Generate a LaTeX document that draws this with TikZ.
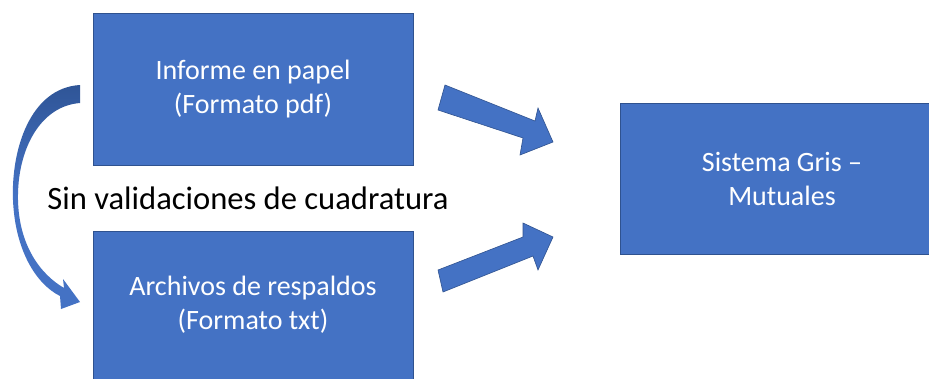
\documentclass[tikz,border=0pt]{standalone}
\usepackage{fontspec}
\setmainfont{Carlito}
\definecolor{boxfill}{HTML}{4472C4}
\definecolor{boxedge}{HTML}{2F528F}
\definecolor{curvedark}{HTML}{2F5597}
\tikzset{
  x=1pt,y=-1pt,
  bluebox/.style={draw=boxedge, line width=1pt, fill=boxfill, text=white, align=center, inner sep=0pt, font=\fontsize{28}{34}\selectfont},
  blockarrow/.style={draw=boxedge, line width=0.6pt, fill=boxfill},
  lbl/.style={font=\fontsize{32.6}{38}\selectfont, inner sep=0pt}
}
\begin{document}
\begin{tikzpicture}
\useasboundingbox[fill=white] (0,0) rectangle (929,378);
\node[bluebox, minimum width=320pt, minimum height=152pt] (pdf) at (253,89) {Informe en papel\\(Formato pdf)};
\node[bluebox, minimum width=320pt, minimum height=148pt] (txt) at (253,305) {Archivos de respaldos\\(Formato txt)};
\node[bluebox, minimum width=324pt, minimum height=151pt] (gris) at (782,178.5) {Sistema Gris --\\Mutuales};
\node[lbl] (sin) at (248,198) {Sin validaciones de cuadratura};
% block arrows
\draw[blockarrow] (445,85) -- (535,121) -- (538,108) -- (553,142) -- (520,155) -- (523,138) -- (438,110) -- cycle;
\draw[blockarrow] (438,270) -- (523,237) -- (523,223) -- (553,237) -- (538,270) -- (533,256) -- (443,292) -- cycle;
% curved arrow
\shade[top color=curvedark, bottom color=boxfill, middle color=boxfill] (80,85) .. controls (30,88) and (11,150) .. (13,200)
  .. controls (15,250) and (36,284) .. (60,296) -- (61,309) -- (80,302) -- (63,279) -- (64,288)
  .. controls (40,274) and (19,245) .. (18,200)
  .. controls (17,150) and (40,106) .. (80,103) -- cycle;
\end{tikzpicture}
\end{document}
